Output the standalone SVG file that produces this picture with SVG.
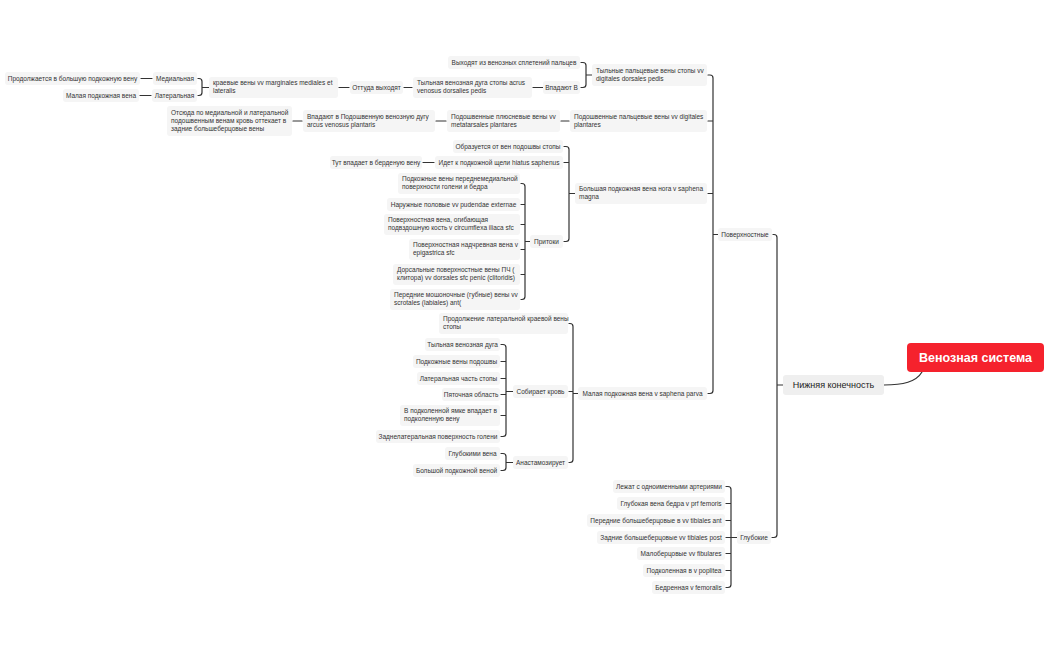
<svg xmlns="http://www.w3.org/2000/svg" width="1050" height="650" viewBox="0 0 1050 650">
<style>
.b{fill:#f5f5f5}
.t{font-family:"Liberation Sans",Arial,sans-serif;font-size:6.5px;fill:#333}
.m{text-anchor:middle}
.c{fill:none;stroke:#333;stroke-width:1.2;stroke-linecap:round;stroke-linejoin:round}
</style>
<rect width="1050" height="650" fill="#fff"/>
<g id="connectors" class="c">
<path d="M884 385 C903 385 916 382 922 372"/>
<path d="M773 234.5 H774 Q777 234.5 777 237.5 V534.5 Q777 537.5 774 537.5 H772 M777 385 H783"/>
<path d="M708 75 H710 Q713 75 713 78 V390.5 Q713 393.5 710 393.5 H708 M708 121 H713 M708 193.5 H713 M713 234.5 H718"/>
<path d="M726 486.5 H728 Q731 486.5 731 489.5 V584.5 Q731 587.5 728 587.5 H726 M726 503.5 H731 M726 520.5 H731 M726 537.5 H737 M726 553.5 H731 M726 570.5 H731"/>
<path d="M581 62.5 H583 Q586 62.5 586 65.5 V84.5 Q586 87.5 583 87.5 H581 M586 75 H592"/>
<path d="M533 87.5 H544 M404 87.5 H412 M339 87.5 H349"/>
<path d="M198 78.5 H199 Q202 78.5 202 81.5 V92.5 Q202 95.5 199 95.5 H198 M202 87.5 H209"/>
<path d="M141 78.5 H152 M140 95.5 H151"/>
<path d="M561 121 H569 M436 121 H446 M293 121 H302"/>
<path d="M564 146.5 H566 Q569 146.5 569 149.5 V238.5 Q569 241.5 566 241.5 H564 M564 162.5 H569 M569 193.5 H575"/>
<path d="M423 162.5 H434"/>
<path d="M521 183.5 H522 Q525 183.5 525 186.5 V296.5 Q525 299.5 522 299.5 H521 M521 204.5 H525 M521 224.5 H525 M521 249.5 H525 M521 274.5 H525 M525 241.5 H530"/>
<path d="M569 323.5 H570 Q573 323.5 573 326.5 V459.5 Q573 462.5 570 462.5 H569 M569 391.5 H573 M573 393.5 H578"/>
<path d="M501 344.5 H503 Q506 344.5 506 347.5 V433.5 Q506 436.5 503 436.5 H501 M501 361.5 H506 M501 378.5 H506 M501 394.5 H506 M501 415.5 H506 M506 391.5 H513"/>
<path d="M501 453.5 H503 Q506 453.5 506 456.5 V467.5 Q506 470.5 503 470.5 H501 M506 462.5 H513"/>
</g>
<g id="root"><rect x="907" y="343" width="137" height="29" rx="4" fill="#f5222d"/><text x="975.5" y="362" text-anchor="middle" font-family="Liberation Sans,Arial,sans-serif" font-size="12.5" font-weight="bold" fill="#fff">Венозная система</text></g>
<g id="n-lower"><rect x="783" y="375" width="101" height="20" rx="3" fill="#efefef"/><text x="833.5" y="388.2" text-anchor="middle" font-family="Liberation Sans,Arial,sans-serif" font-size="9" fill="#222">Нижняя конечность</text></g>
<g id="n-surface"><rect class="b" x="718" y="228" width="54" height="13" rx="3"/><text class="t m" x="745" y="236.8">Поверхностные</text></g>
<g id="n-deep"><rect class="b" x="737" y="531" width="34" height="13" rx="3"/><text class="t m" x="754" y="539.8">Глубокие</text></g>

<g id="n-vyhod"><rect class="b" x="448" y="56" width="132" height="13" rx="3"/><text class="t m" x="514" y="64.8">Выходят из венозных сплетений пальцев</text></g>
<g id="n-tylpal"><rect class="b" x="592" y="64" width="115" height="22" rx="3"/><text class="t" x="596" y="72.5">Тыльные пальцевые вены стопы vv</text><text class="t" x="596" y="80.8">digitales dorsales pedis</text></g>
<g id="n-vpadB"><rect class="b" x="543" y="81" width="37" height="13" rx="3"/><text class="t m" x="561.5" y="89.8">Впадают В</text></g>
<g id="n-tylduga"><rect class="b" x="413" y="77" width="119" height="21" rx="3"/><text class="t" x="417" y="85">Тыльная венозная дуга стопы acrus</text><text class="t" x="417" y="93.3">venosus dorsalies pedis</text></g>
<g id="n-ottuda"><rect class="b" x="350" y="81" width="53" height="13" rx="3"/><text class="t m" x="376.5" y="89.8">Оттуда выходят</text></g>
<g id="n-kraev"><rect class="b" x="209" y="77" width="129" height="21" rx="3"/><text class="t" x="213" y="85">краевые вены vv marginales mediales et</text><text class="t" x="213" y="93.3">lateralis</text></g>
<g id="n-medial"><rect class="b" x="153" y="72" width="44" height="13" rx="3"/><text class="t m" x="175" y="80.8">Медиальная</text></g>
<g id="n-lateral"><rect class="b" x="152" y="89" width="45" height="13" rx="3"/><text class="t m" x="174.5" y="97.8">Латеральная</text></g>
<g id="n-prodolzh"><rect class="b" x="5" y="72" width="135" height="13" rx="3"/><text class="t m" x="72.5" y="80.8">Продолжается в большую подкожную вену</text></g>
<g id="n-malpv"><rect class="b" x="63" y="89" width="76" height="13" rx="3"/><text class="t m" x="101" y="97.8">Малая подкожная вена</text></g>

<g id="n-podpal"><rect class="b" x="570" y="110" width="137" height="22" rx="3"/><text class="t" x="574" y="118.5">Подошвенные пальцевые вены vv digitales</text><text class="t" x="574" y="126.8">plantares</text></g>
<g id="n-podplus"><rect class="b" x="447" y="110" width="113" height="22" rx="3"/><text class="t" x="451" y="118.5">Подошвенные плюсневые вены vv</text><text class="t" x="451" y="126.8">metatarsales plantares</text></g>
<g id="n-vpadpod"><rect class="b" x="303" y="110" width="132" height="22" rx="3"/><text class="t" x="307" y="118.5">Впадают в Подошвенную венозную дугу</text><text class="t" x="307" y="126.8">arcus venosus plantaris</text></g>
<g id="n-otsyuda"><rect class="b" x="167" y="106" width="125" height="30" rx="3"/><text class="t" x="171" y="114.5">Отсюда по медиальной и латеральной</text><text class="t" x="171" y="122.8">подошвенным венам кровь оттекает в</text><text class="t" x="171" y="131.1">задние большеберцовые вены</text></g>

<g id="n-bolsh"><rect class="b" x="575" y="183" width="132" height="21" rx="3"/><text class="t" x="579" y="191">Большая подкожная вена нога v saphena</text><text class="t" x="579" y="199.3">magna</text></g>
<g id="n-obraz"><rect class="b" x="453" y="140" width="110" height="13" rx="3"/><text class="t m" x="508" y="148.8">Образуется от вен подошвы стопы</text></g>
<g id="n-idet"><rect class="b" x="435" y="156" width="128" height="13" rx="3"/><text class="t m" x="499" y="164.8">Идет к подкожной щели hiatus saphenus</text></g>
<g id="n-tut"><rect class="b" x="330" y="156" width="92" height="13" rx="3"/><text class="t m" x="376" y="164.8">Тут впадает в берденую вену</text></g>
<g id="n-pritoki"><rect class="b" x="530" y="235" width="33" height="13" rx="3"/><text class="t m" x="546.5" y="243.8">Притоки</text></g>
<g id="n-pr1"><rect class="b" x="398" y="173" width="122" height="21" rx="3"/><text class="t" x="402" y="181">Подкожные вены переднемедиальной</text><text class="t" x="402" y="189.3">поверхности голени и бедра</text></g>
<g id="n-pr2"><rect class="b" x="387" y="198" width="133" height="13" rx="3"/><text class="t m" x="453.5" y="206.8">Наружные половые vv pudendae externae</text></g>
<g id="n-pr3"><rect class="b" x="384" y="214" width="136" height="21" rx="3"/><text class="t" x="388" y="222">Поверхностная вена, огибающая</text><text class="t" x="388" y="230.3">подвздошную кость v circumflexa iliaca sfc</text></g>
<g id="n-pr4"><rect class="b" x="409" y="239" width="111" height="21" rx="3"/><text class="t" x="413" y="247">Поверхностная надчревная вена v</text><text class="t" x="413" y="255.3">epigastrica sfc</text></g>
<g id="n-pr5"><rect class="b" x="393" y="264" width="127" height="21" rx="3"/><text class="t" x="397" y="272">Дорсальные поверхностные вены ПЧ (</text><text class="t" x="397" y="280.3">клитора) vv dorsales sfc penic (clitoridis)</text></g>
<g id="n-pr6"><rect class="b" x="390" y="289" width="130" height="21" rx="3"/><text class="t" x="394" y="297">Передние мошоночные (губные) вены vv</text><text class="t" x="394" y="305.3">scrotales (labiales) ant(</text></g>

<g id="n-malaya"><rect class="b" x="578" y="387" width="129" height="13" rx="3"/><text class="t m" x="642.5" y="395.8">Малая подкожная вена v saphena parva</text></g>
<g id="n-prodlat"><rect class="b" x="439" y="313" width="129" height="21" rx="3"/><text class="t" x="443" y="321">Продолжение латеральной краевой вены</text><text class="t" x="443" y="329.3">стопы</text></g>
<g id="n-sobir"><rect class="b" x="513" y="385" width="55" height="13" rx="3"/><text class="t m" x="540.5" y="393.8">Собирает кровь</text></g>
<g id="n-s1"><rect class="b" x="425" y="338" width="75" height="13" rx="3"/><text class="t m" x="462.5" y="346.8">Тыльная венозная дуга</text></g>
<g id="n-s2"><rect class="b" x="413" y="355" width="87" height="13" rx="3"/><text class="t m" x="456.5" y="363.8">Подкожные вены подошвы</text></g>
<g id="n-s3"><rect class="b" x="417" y="372" width="83" height="13" rx="3"/><text class="t m" x="458.5" y="380.8">Латеральная часть стопы</text></g>
<g id="n-s4"><rect class="b" x="442" y="388" width="58" height="13" rx="3"/><text class="t m" x="471" y="396.8">Пяточная область</text></g>
<g id="n-s5"><rect class="b" x="400" y="405" width="100" height="21" rx="3"/><text class="t" x="404" y="413">В подколенной ямке впадает в</text><text class="t" x="404" y="421.3">подколенную вену</text></g>
<g id="n-s6"><rect class="b" x="376" y="430" width="124" height="13" rx="3"/><text class="t m" x="438" y="438.8">Заднелатеральная поверхность голени</text></g>
<g id="n-anast"><rect class="b" x="513" y="456" width="55" height="13" rx="3"/><text class="t m" x="540.5" y="464.8">Анастамозирует</text></g>
<g id="n-a1"><rect class="b" x="445" y="447" width="55" height="13" rx="3"/><text class="t m" x="472.5" y="455.8">Глубокими вена </text></g>
<g id="n-a2"><rect class="b" x="413" y="464" width="87" height="13" rx="3"/><text class="t m" x="456.5" y="472.8">Большой подкожной веной</text></g>

<g id="n-d1"><rect class="b" x="613" y="480" width="112" height="13" rx="3"/><text class="t m" x="669" y="488.8">Лежат с одноименными артериями</text></g>
<g id="n-d2"><rect class="b" x="617" y="497" width="108" height="13" rx="3"/><text class="t m" x="671" y="505.8">Глубокая вена бедра v prf femoris</text></g>
<g id="n-d3"><rect class="b" x="587" y="514" width="138" height="13" rx="3"/><text class="t m" x="656" y="522.8">Передние большеберцовые в vv tibiales ant</text></g>
<g id="n-d4"><rect class="b" x="597" y="531" width="128" height="13" rx="3"/><text class="t m" x="661" y="539.8">Задние большеберцовые vv tibiales post</text></g>
<g id="n-d5"><rect class="b" x="637" y="547" width="88" height="13" rx="3"/><text class="t m" x="681" y="555.8">Малоберцовые vv fibulares</text></g>
<g id="n-d6"><rect class="b" x="643" y="564" width="82" height="13" rx="3"/><text class="t m" x="684" y="572.8">Подколенная в v poplitea</text></g>
<g id="n-d7"><rect class="b" x="652" y="581" width="73" height="13" rx="3"/><text class="t m" x="688.5" y="589.8">Бедренная v femoralis</text></g>
</svg>
